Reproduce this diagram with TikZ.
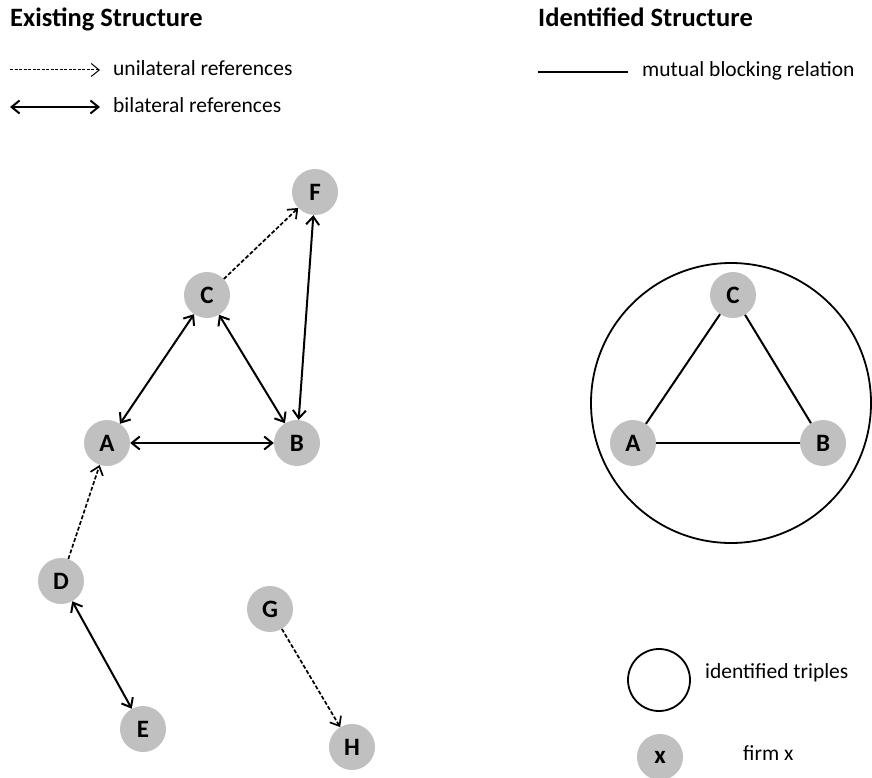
\documentclass[tikz,border=0pt]{standalone}
\usepackage{fontspec}
\setmainfont{Carlito}
\usetikzlibrary{arrows.meta}
\definecolor{ngray}{RGB}{192,192,192}
\begin{document}
\begin{tikzpicture}[x=1pt,y=-1pt,
  firm/.style={circle,fill=ngray,minimum size=46pt,inner sep=0pt,font=\fontsize{25}{25}\selectfont\bfseries},
  bi/.style={line width=2pt,{Straight Barb[length=8pt,width=13pt]}-{Straight Barb[length=8pt,width=13pt]}},
  uni/.style={line width=1.7pt,dash pattern=on 4pt off 2pt,-{Straight Barb[length=8pt,width=13pt]}},
  mutual/.style={line width=2pt},
  title/.style={anchor=base west,inner sep=0pt,font=\fontsize{26.5}{26.5}\selectfont\bfseries},
  legtext/.style={anchor=base west,inner sep=0pt,font=\fontsize{21.5}{21.5}\selectfont}]
\useasboundingbox (0,0) rectangle (872,778);
\fill[white] (0,0) rectangle (872,778);

% headers
\node[title] (h1) at (10,27) {Existing Structure};
\node[title] (h2) at (538,27) {Identified Structure};

% legend left
\coordinate (u1) at (10,70);
\coordinate (u2) at (100,70);
\draw[uni,line width=1pt,dash pattern=on 3pt off 1.5pt] (u1) -- (u2);
\node[legtext] (ut) at (113,76) {unilateral references};
\coordinate (b1) at (10,107);
\coordinate (b2) at (100,107);
\draw[bi] (b1) -- (b2);
\node[legtext] (bt) at (113,113) {bilateral references};

% legend right
\coordinate (m1) at (538,72);
\coordinate (m2) at (628,72);
\draw[line width=1.3pt] (m1) -- (m2);
\node[legtext] (mt) at (642,77) {mutual blocking relation};

% left graph
\node[firm] (A) at (107,443) {A};
\node[firm] (B) at (297,443) {B};
\node[firm] (C) at (207,295) {C};
\node[firm] (F) at (315,192) {F};
\node[firm] (D) at (61,581) {D};
\node[firm] (E) at (143,729) {E};
\node[firm] (G) at (270,609) {G};
\node[firm] (H) at (352,747) {H};

\draw[bi] (A) -- (B);
\draw[bi] (A) -- (C);
\draw[bi] (C) -- (B);
\draw[bi] (F) -- (B);
\draw[uni] (C) -- (F);
\draw[uni] (D) -- (A);
\draw[bi] (D) -- (E);
\draw[uni] (G) -- (H);

% right structure
\node[circle,draw,line width=1.8pt,minimum size=280pt,inner sep=0pt] (T) at (731,403) {};
\node[firm] (rA) at (633,443) {A};
\node[firm] (rB) at (823,443) {B};
\node[firm] (rC) at (733,295) {C};
\draw[mutual] (rA) -- (rB);
\draw[mutual] (rA) -- (rC);
\draw[mutual] (rC) -- (rB);

% legend bottom right
\node[circle,draw,line width=1.8pt,minimum size=62pt,inner sep=0pt] (lt) at (659,680) {};
\node[legtext] (ltt) at (705,678) {identified triples};
\node[firm] (lx) at (660,757) {x};
\node[legtext] (lxt) at (743,760) {firm x};
\end{tikzpicture}
\end{document}
